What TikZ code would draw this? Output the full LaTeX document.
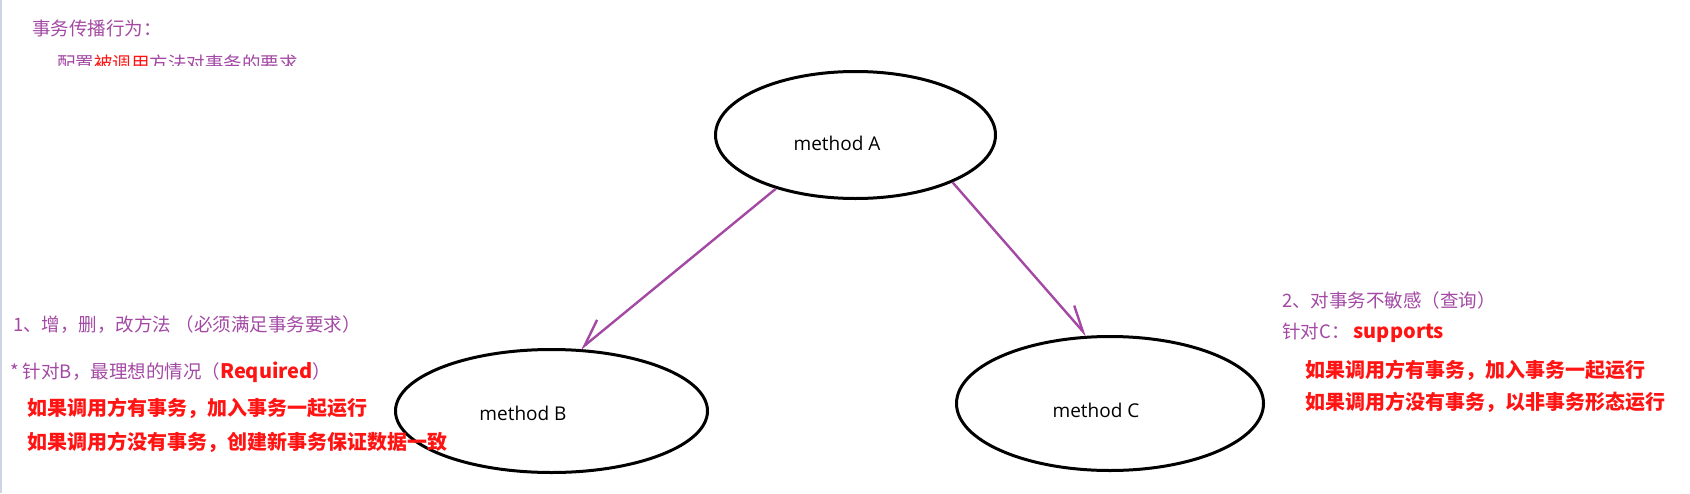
\documentclass[tikz,border=0pt]{standalone}
\usepackage{fontspec}
\setmainfont{Open Sans}
\newfontfamily\cjk{Noto Sans CJK SC}
\usetikzlibrary{shapes.geometric,arrows.meta}
\definecolor{mspurple}{RGB}{163,73,164}
\definecolor{msred}{RGB}{255,20,20}
\definecolor{edgebar}{RGB}{205,213,229}
\tikzstyle{meth}=[ellipse,draw=black,line width=3pt,inner sep=0pt]
\tikzstyle{mlabel}=[inner sep=0pt,font=\fontsize{19}{22}\selectfont]
\tikzstyle{note}=[anchor=west,inner sep=0pt,text=mspurple,font=\cjk\fontsize{18.5}{22}\selectfont]
\tikzstyle{must}=[anchor=west,inner sep=0pt,text=msred,font=\cjk\bfseries\fontsize{20}{24}\selectfont]
\tikzstyle{call}=[draw=mspurple,line width=2.4pt,-{Straight Barb[harpoon,length=25pt,width=21pt]}]
\newcommand{\keyword}[1]{{\color{msred}\bfseries\fontsize{20}{24}\selectfont #1}}

\begin{document}
\begin{tikzpicture}[x=1pt,y=-1pt]
\useasboundingbox (0,0) rectangle (1690,493);
\fill[edgebar] (0,0) rectangle (2,493);

% heading, cut off at the bottom
\node[note] (head) at (32,28) {事务传播行为：};
\begin{scope}
\clip (0,0) rectangle (700,65);
\node[note] (sub) at (57,63) {配置\textcolor{msred}{被调用}方法对事务的要求};
\end{scope}

\node[meth,minimum width=280pt,minimum height=127pt] (A) at (855.5,135) {};
\node[mlabel] (labA) at (837,143) {method A};
\node[meth,minimum width=312pt,minimum height=123pt] (B) at (551.5,411) {};
\node[mlabel] (labB) at (523,413) {method B};
\node[meth,minimum width=307pt,minimum height=134pt] (C) at (1110,403.5) {};
\node[mlabel] (labC) at (1096,410) {method C};

\draw[call,-{Straight Barb[harpoon,swap,length=26pt,width=24pt]}] (A.214) -- (B.65);
\draw[call] (A.334) -- (C.109);

% case B
\node[note] (b1) at (13,325) {1、增，删，改方法 （必须满足事务要求）};
\node[note] (b2) at (10,372) {* 针对B，最理想的情况（\keyword{Required}）};
\node[must] (b3) at (27,408) {如果调用方有事务，加入事务一起运行};
\node[must] (b4) at (27,442) {如果调用方没有事务，创建新事务保证数据一致};

% case C
\node[note] (c1) at (1282,300) {2、对事务不敏感（查询）};
\node[note] (c2) at (1282,333) {针对C： \keyword{supports}};
\node[must] (c3) at (1305,370) {如果调用方有事务，加入事务一起运行};
\node[must] (c4) at (1305,402) {如果调用方没有事务，以非事务形态运行};

\end{tikzpicture}
\end{document}
